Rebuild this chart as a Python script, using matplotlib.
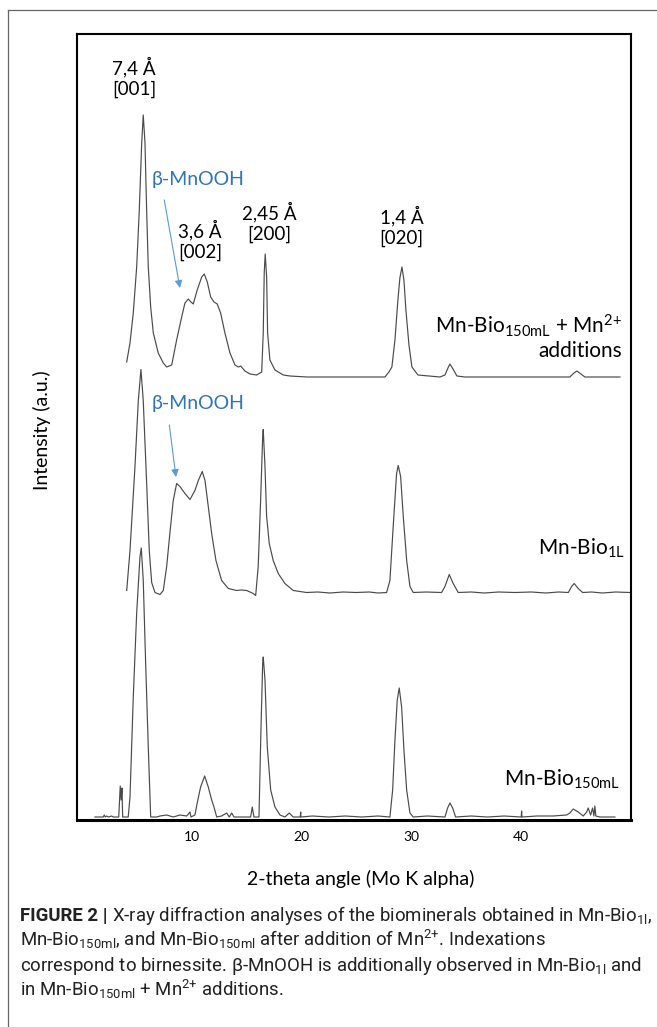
import matplotlib
matplotlib.use("Agg")
import matplotlib.pyplot as plt
from matplotlib import font_manager
from matplotlib.lines import Line2D

# XRD patterns: 2-theta (deg) and intensity above each baseline (a.u.)
top_x = [4.04, 4.34, 4.64, 4.95, 5.19, 5.41, 5.55, 5.71, 5.86, 6.01, 6.23, 6.47, 6.92, 7.38, 7.69,
         8.15, 8.60, 9.06, 9.36, 9.66, 9.91, 10.12, 10.48, 10.89, 11.12, 11.40, 11.71, 12.01, 12.31,
         12.62, 13.01, 13.47, 13.93, 14.23, 14.45, 14.84, 15.30, 15.91, 16.37, 16.51, 16.60, 16.69,
         16.82, 16.91, 17.12, 17.58, 18.34, 18.95, 20.50, 27.63, 27.99, 28.26, 28.54, 28.81, 28.99,
         29.18, 29.36, 29.54, 29.82, 30.09, 30.64, 32.65, 33.11, 33.38, 33.56, 33.84, 34.20, 34.93,
         44.52, 44.89, 45.16, 45.53, 45.89, 49.09]
top_i = [15, 34, 64, 110, 167, 234, 262, 234, 167, 110, 70, 44, 24, 14, 10,
         12, 37, 60, 74, 78, 75, 73, 87, 100, 103, 95, 80, 75, 73,
         64, 44, 24, 12, 10, 11, 6, 3, 2, 5, 44, 104, 123,
         100, 44, 17, 7, 2, 1, 0, 0, 5, 10, 37, 77, 99,
         110, 97, 67, 32, 10, 2, 0, 2, 9, 13, 8, 1, 0,
         0, 4, 6, 3, 0, 0]

mid_x = [4.04, 4.34, 4.79, 5.10, 5.34, 5.55, 5.86, 6.10, 6.32, 6.62, 7.08, 7.38, 7.69, 7.99, 8.29,
         8.60, 8.90, 9.36, 9.82, 10.27, 10.58, 10.94, 11.19, 11.49, 11.80, 12.19, 12.71, 13.32,
         14.08, 14.50, 15.00, 15.60, 15.82, 16.05, 16.27, 16.46, 16.51, 16.67, 16.82, 17.06, 17.42,
         17.88, 18.49, 19.25, 20.47, 21.50, 22.60, 23.80, 25.00, 26.20, 27.00, 27.78, 28.08, 28.38,
         28.69, 28.84, 29.06, 29.30, 29.61, 29.91, 30.21, 31.40, 32.80, 33.11, 33.50, 33.86, 34.32,
         35.50, 36.70, 38.00, 39.50, 41.00, 42.30, 43.50, 44.37, 44.68, 44.91, 45.28, 45.68, 46.50,
         47.50, 48.70, 50.00]
mid_i = [2, 42, 125, 192, 223, 192, 110, 42, 10, 0, -2, 2, 26, 60, 92,
         109, 106, 99, 93, 102, 112, 121, 112, 86, 59, 32, 12, 4,
         2, 2.5, 2, -1, -3, 26, 92, 156, 163, 126, 76, 49, 32,
         19, 9, 2, 0, 0.5, -0.5, 0.5, 0, 0.5, -0.5, 0, 12, 66,
         119, 127, 116, 76, 32, 6, 0, 0.5, 0, 6, 18, 9, 0,
         0.5, -0.5, 0.5, 0, 0.5, -0.5, 0.5, 0, 6, 9, 4, 0, 0.5,
         -0.5, 0.5, 0]

bot_x = [1.14, 1.90, 1.99, 2.08, 2.21, 2.36, 2.67, 2.81, 3.31, 3.45, 3.53, 3.61, 3.67, 4.18, 4.34,
         4.64, 4.95, 5.25, 5.37, 5.55, 5.77, 6.01, 6.23, 6.78, 7.08, 7.69, 8.29, 8.90, 9.52, 9.82,
         9.91, 10.27, 10.48, 10.79, 11.16, 11.49, 11.80, 12.01, 12.26, 12.71, 13.17, 13.41, 13.63,
         13.84, 15.00, 15.36, 15.51, 15.66, 16.12, 16.30, 16.46, 16.51, 16.67, 16.88, 17.19, 17.58,
         18.04, 18.49, 18.89, 19.25, 19.89, 19.93, 19.95, 21.0, 22.5, 24.0, 25.5, 27.0, 28.08, 28.33,
         28.54, 28.75, 28.93, 29.15, 29.36, 29.61, 29.91, 30.21, 31.5, 33.11, 33.35, 33.56, 33.81,
         34.08, 35.5, 37.0, 38.5, 40.07, 40.11, 40.14, 41.5, 43.0, 44.22, 44.52, 44.82, 45.28, 45.74,
         46.05, 46.19, 46.41, 46.59, 46.71, 46.80, 46.89, 47.26, 48.63]
bot_i = [0, 0, 2, 0, 1, 0, 1, 0, 0, 31, 17, 29, 0, 0, 20,
         120, 204, 260, 269, 237, 154, 70, 0, 0, 1, 2, 0, 2, 1, 5,
         0, 2, 14, 30, 41, 30, 17, 10, 0, 1, 4, 0, 4,
         0, 0, 0, 10, 0, 0, 87, 154, 160, 137, 70, 27, 10,
         2, 0, 4, 0, 0, 5, 0, 1, 0, 1, 0, 1, 0, 27,
         77, 117, 129, 110, 67, 27, 4, 0, 1, 0, 9, 14, 9,
         0, 1, 0, 1, 0, 6, 0, 1, 1, 2, 4, 8, 5, 1,
         5, 9, 2, 9, 1, 11, 1, 0, 0]

tick_vals = [10, 20, 30, 40]
peak_labels = ["7,4 Å\n[001]", "3,6 Å\n[002]", "2,45 Å\n[200]", "1,4 Å\n[020]"]
sample_names = [r"Mn-Bio$_{150mL}$ + Mn$^{2{+}}$" + "\nadditions", r"Mn-Bio$_{1L}$", r"Mn-Bio$_{150mL}$"]
caption = [
    [("FIGURE 2 |", "bold"), (r"X-ray diffraction analyses of the biominerals obtained in Mn-Bio$_{1l}$,", "normal")],
    [(r"Mn-Bio$_{150ml}$, and Mn-Bio$_{150ml}$ after addition of Mn$^{2{+}}$. Indexations", "normal")],
    [(r"correspond to birnessite. β-MnOOH is additionally observed in Mn-Bio$_{1l}$ and", "normal")],
    [(r"in Mn-Bio$_{150ml}$ + Mn$^{2{+}}$ additions.", "normal")],
]

# vertical stacking (same units as intensity)
offsets = [443, 227.5, 3]

plt.rcParams["mathtext.default"] = "regular"
names = {f.name for f in font_manager.fontManager.ttflist}
CF = ["Lato", "DejaVu Sans"]
capfont = "Liberation Sans Narrow" if "Liberation Sans Narrow" in names else "Roboto"

W, H = 657, 1027
fig = plt.figure(figsize=(W / 100, H / 100), dpi=100)
ax = fig.add_axes([77 / W, 1 - 820 / H, (631 - 77) / W, (820 - 34) / H])

line_col = "#4a4a4a"
for xs, ys, off in zip([top_x, mid_x, bot_x], [top_i, mid_i, bot_i], offsets):
    ax.plot(xs, [v + off for v in ys], color=line_col, lw=0.85)

ax.set_xlim(-0.5, 50.1)
ax.set_ylim(0, 786)
ax.set_xticks(tick_vals)
ax.set_yticks([])
ax.tick_params(axis="x", length=0, pad=8, labelsize=10)
for lab in ax.get_xticklabels():
    lab.set_family(CF)
for s in ["left", "right", "top"]:
    ax.spines[s].set_linewidth(1.5)
ax.spines["bottom"].set_linewidth(2.2)

# peak indexations
peak_pos = [(4.71, 743), (10.73, 580), (17.05, 598), (29.15, 594)]
for (px, py), txt in zip(peak_pos, peak_labels):
    ax.text(px, py, txt, ha="center", va="center", fontsize=13.5, family=CF, linespacing=1.25)

# beta-MnOOH markers
blue = "#2e75b6"
for (tx, ty), (sx, sy), (ex, ey) in [((10.55, 640), (7.47, 620), (8.90, 532)),
                                     ((10.55, 417), (7.93, 395), (8.54, 343))]:
    ax.text(tx, ty, "β-MnOOH", ha="center", va="center", fontsize=14, color=blue, family=CF)
    ax.annotate("", xy=(ex, ey), xytext=(sx, sy),
                arrowprops=dict(arrowstyle="-|>", color="#5b9bd5", lw=0.8,
                                mutation_scale=11, shrinkA=0, shrinkB=0))

# sample names
name_pos = [(49.27, 483), (49.54, 272), (49.09, 41)]
for (nx, ny), txt in zip(name_pos, sample_names):
    ax.text(nx, ny, txt, ha="right", va="center", fontsize=15, family=CF,
            multialignment="right", linespacing=1.1)

fig.text(42 / W, 1 - 430 / H, "Intensity (a.u.)", rotation=90, ha="center", va="center",
         fontsize=14, family=CF)
fig.text(361 / W, 1 - 879 / H, "2-theta angle (Mo K alpha)", ha="center", va="center",
         fontsize=14, family=CF)

# outer frame of the figure panel
fig.add_artist(Line2D([8 / W, 8 / W], [0, 1 - 10 / H], transform=fig.transFigure, color="#666666", lw=0.9))
fig.add_artist(Line2D([8 / W, 1], [1 - 10 / H, 1 - 10 / H], transform=fig.transFigure, color="#666666", lw=0.9))

# caption, sized so the first line spans the panel width
r = fig.canvas.get_renderer()


def draw_line(parts, x0, y, size):
    x = x0
    for i, (txt, wt) in enumerate(parts):
        t = fig.text(x / W, 1 - y / H, txt, ha="left", va="baseline", fontsize=size,
                     family=capfont, fontweight=wt, color="#222222")
        x += t.get_window_extent(renderer=r).width
        if i < len(parts) - 1:
            x += size * 0.3
    return x - x0


base = 10
wline = 0
tmp = []
for txt, wt in caption[0]:
    t = fig.text(0, 0, txt, fontsize=base, family=capfont, fontweight=wt)
    wline += t.get_window_extent(renderer=r).width
    tmp.append(t)
wline += base * 0.3
for t in tmp:
    t.remove()
size = base * (650 - 20) / wline

for k, parts in enumerate(caption):
    draw_line(parts, 20, 921 + 25 * k, size)

fig.savefig("out.png", dpi=100)
